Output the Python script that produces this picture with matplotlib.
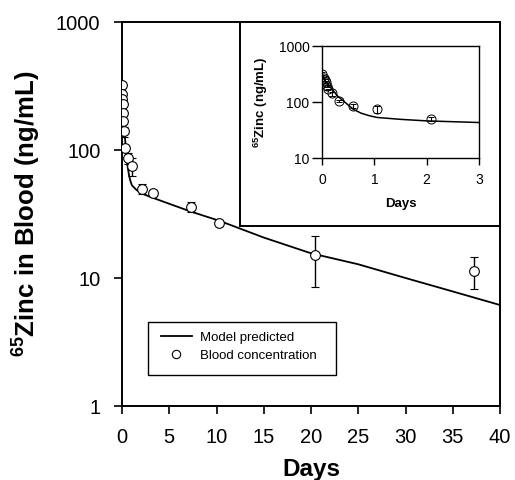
import matplotlib
matplotlib.use("Agg")
import matplotlib.pyplot as plt
from matplotlib.patches import Rectangle
from matplotlib.lines import Line2D

plt.rcParams['font.family'] = ['Liberation Sans', 'DejaVu Sans']
plt.rcParams['mathtext.fontset'] = 'custom'
plt.rcParams['mathtext.rm'] = 'Liberation Sans'
plt.rcParams['mathtext.bf'] = 'Liberation Sans:bold'

# Observed blood concentration (ng/mL)
days = [0.005, 0.03, 0.05, 0.07, 0.09, 0.12, 0.2, 0.33, 0.6, 1.06, 2.08, 3.3, 7.3, 10.3, 20.4, 37.3]
conc = [322, 272, 250, 230, 194, 168, 142, 104, 86, 75, 50, 46, 36, 27, 15, 11.4]
err_low = [15, 12, 10, 10, 6, 6, 15, 5, 8, 12, 5, 2, 3.5, 1.5, 6.5, 3.2]
err_high = [15, 12, 10, 10, 6, 6, 8, 5, 8, 11, 4, 2, 3.5, 1.5, 6.3, 3.1]

# Model predicted curve
model_days = [0, 0.05, 0.15, 0.3, 0.45, 0.6, 0.75, 0.9, 1.05, 1.5, 2, 3, 5, 7.3, 10.3, 15, 20, 25, 30, 35, 40]
model_conc = [280, 245, 189, 127, 97, 74, 63, 57, 53, 49, 46, 43, 38, 33, 28, 20.7, 15.6, 12.8, 10.0, 7.85, 6.15]

main_xticks = [0, 5, 10, 15, 20, 25, 30, 35, 40]
main_yticks = [1, 10, 100, 1000]
inset_xticks = [0, 1, 2, 3]
inset_yticks = [10, 100, 1000]

W, H = 515, 480
fig = plt.figure(figsize=(W / 100, H / 100), dpi=100)

def fx(px):
    return px / W

def fy(py):
    return 1 - py / H

ax = fig.add_axes([fx(122), fy(406), fx(500) - fx(122), fy(22) - fy(406)])
ax.set_yscale('log')
ax.plot(model_days, model_conc, color='black', lw=1.3, zorder=2)
ax.errorbar(days, conc, yerr=[err_low, err_high], fmt='o', ms=7, mfc='white',
            mec='black', mew=0.8, ecolor='black', elinewidth=1.0, capsize=3,
            capthick=1.0, zorder=3)
ax.set_xlim(0, 40)
ax.set_ylim(1, 1000)
ax.set_xticks(main_xticks)
ax.set_xticklabels([str(t) for t in main_xticks])
ax.set_yticks(main_yticks)
ax.set_yticklabels([str(t) for t in main_yticks])
ax.yaxis.set_minor_locator(matplotlib.ticker.NullLocator())
ax.tick_params(axis='both', which='major', direction='out', length=6, width=1.2,
               labelsize=14.5, pad=9.5)
for s in ax.spines.values():
    s.set_linewidth(1.4)
ax.set_xlabel('Days', fontsize=17.5, fontweight='bold', labelpad=8)
ax.set_ylabel(r'$\mathbf{^{65}}$Zinc in Blood (ng/mL)', fontsize=18.5,
              fontweight='bold', labelpad=9)

# legend
handles = [Line2D([], [], color='black', lw=1.3),
           Line2D([], [], ls='none', marker='o', ms=6, mfc='white', mec='black', mew=0.8)]
leg = fig.legend(handles, ['Model predicted', 'Blood concentration'],
                 loc='upper left', bbox_to_anchor=(fx(150), fy(321)),
                 frameon=False, fontsize=9.5, handlelength=2.4,
                 handletextpad=0.6, labelspacing=0.45, borderpad=0.3)
fig.patches.append(Rectangle((fx(148), fy(375)), fx(336) - fx(148), fy(322) - fy(375),
                             transform=fig.transFigure, facecolor='none',
                             edgecolor='black', lw=1.0, zorder=5))

# inset frame
frame = fig.add_axes([fx(240), fy(226), fx(500) - fx(240), fy(22) - fy(226)])
frame.set_xticks([])
frame.set_yticks([])
frame.set_facecolor('white')
for s in frame.spines.values():
    s.set_linewidth(1.4)

ins = fig.add_axes([fx(322), fy(158), fx(479) - fx(322), fy(46) - fy(158)])
ins.set_yscale('log')
ins.plot(model_days, model_conc, color='black', lw=1.1, zorder=2)
ins.errorbar(days, conc, yerr=[err_low, err_high], fmt='o', ms=6.5, mfc='none',
             mec='black', mew=0.7, ecolor='black', elinewidth=0.8, capsize=2.5,
             capthick=0.8, zorder=3)
ins.set_xlim(0, 3)
ins.set_ylim(10, 1000)
ins.set_xticks(inset_xticks)
ins.set_xticklabels([str(t) for t in inset_xticks])
ins.set_yticks(inset_yticks)
ins.set_yticklabels([str(t) for t in inset_yticks])
ins.yaxis.set_minor_locator(matplotlib.ticker.NullLocator())
ins.tick_params(axis='y', which='major', direction='out', length=7, width=1.0,
                labelsize=10, pad=2)
ins.tick_params(axis='x', which='major', direction='out', length=5, width=1.0,
                labelsize=10, pad=6)
for s in ins.spines.values():
    s.set_linewidth(1.0)
ins.set_xlabel('Days', fontsize=9.5, fontweight='bold', labelpad=8)
ins.set_ylabel(r'$\mathbf{^{65}}$Zinc (ng/mL)', fontsize=9.5, fontweight='bold',
               labelpad=6)

fig.savefig('out.png', dpi=100)
